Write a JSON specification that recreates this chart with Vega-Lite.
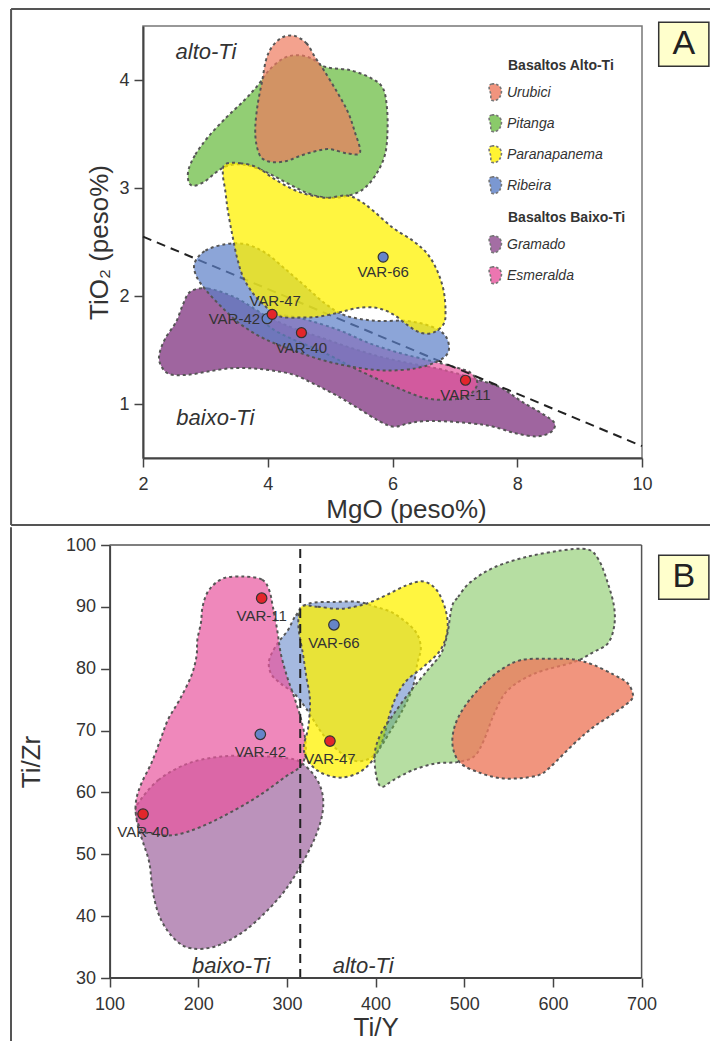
{
  "$schema": "https://vega.github.io/schema/vega-lite/v6.json",
  "background": "white",
  "padding": {"left": 9, "top": 7, "right": 0, "bottom": 0},
  "spacing": -1,
  "config": {
    "font": "Liberation Sans",
    "view": {"stroke": "#777777", "strokeWidth": 1.5},
    "axis": {"grid": false, "labelFlush": false, "domainColor": "#444444", "domainWidth": 2, "tickColor": "#444444", "tickWidth": 1.5, "tickSize": 9, "labelFont": "Liberation Sans", "labelFontSize": 18, "labelColor": "#333333", "titleFont": "Liberation Sans", "titleFontSize": 26, "titleFontWeight": "normal", "titleColor": "#333333"},
    "axisX": {"labelPadding": 8, "titlePadding": 3},
    "axisY": {"labelPadding": 5}
  },
  "datasets": {
    "polyA": [
      {"g":"Urubici","i":0,"x":4.42,"y":4.41},{"g":"Urubici","i":1,"x":4.62,"y":4.34},{"g":"Urubici","i":2,"x":4.76,"y":4.21},{"g":"Urubici","i":3,"x":4.9,"y":4.09},{"g":"Urubici","i":4,"x":5.1,"y":3.9},{"g":"Urubici","i":5,"x":5.28,"y":3.71},{"g":"Urubici","i":6,"x":5.39,"y":3.53},{"g":"Urubici","i":7,"x":5.48,"y":3.33},{"g":"Urubici","i":8,"x":5.28,"y":3.32},{"g":"Urubici","i":9,"x":4.99,"y":3.36},{"g":"Urubici","i":10,"x":4.76,"y":3.34},{"g":"Urubici","i":11,"x":4.53,"y":3.3},{"g":"Urubici","i":12,"x":4.3,"y":3.25},{"g":"Urubici","i":13,"x":4.07,"y":3.24},{"g":"Urubici","i":14,"x":3.9,"y":3.28},{"g":"Urubici","i":15,"x":3.82,"y":3.4},{"g":"Urubici","i":16,"x":3.8,"y":3.56},{"g":"Urubici","i":17,"x":3.84,"y":3.78},{"g":"Urubici","i":18,"x":3.91,"y":3.99},{"g":"Urubici","i":19,"x":3.97,"y":4.18},{"g":"Urubici","i":20,"x":4.06,"y":4.3},{"g":"Urubici","i":21,"x":4.22,"y":4.39},
      {"g":"Pitanga","i":0,"x":2.73,"y":3.17},{"g":"Pitanga","i":1,"x":2.84,"y":3.31},{"g":"Pitanga","i":2,"x":3.04,"y":3.47},{"g":"Pitanga","i":3,"x":3.33,"y":3.65},{"g":"Pitanga","i":4,"x":3.62,"y":3.81},{"g":"Pitanga","i":5,"x":3.84,"y":3.95},{"g":"Pitanga","i":6,"x":4.02,"y":4.09},{"g":"Pitanga","i":7,"x":4.25,"y":4.2},{"g":"Pitanga","i":8,"x":4.47,"y":4.23},{"g":"Pitanga","i":9,"x":4.7,"y":4.2},{"g":"Pitanga","i":10,"x":4.93,"y":4.12},{"g":"Pitanga","i":11,"x":5.33,"y":4.09},{"g":"Pitanga","i":12,"x":5.68,"y":4.01},{"g":"Pitanga","i":13,"x":5.85,"y":3.92},{"g":"Pitanga","i":14,"x":5.91,"y":3.75},{"g":"Pitanga","i":15,"x":5.92,"y":3.53},{"g":"Pitanga","i":16,"x":5.88,"y":3.31},{"g":"Pitanga","i":17,"x":5.73,"y":3.12},{"g":"Pitanga","i":18,"x":5.51,"y":2.98},{"g":"Pitanga","i":19,"x":5.22,"y":2.92},{"g":"Pitanga","i":20,"x":4.93,"y":2.91},{"g":"Pitanga","i":21,"x":4.65,"y":2.95},{"g":"Pitanga","i":22,"x":4.36,"y":3.03},{"g":"Pitanga","i":23,"x":4.07,"y":3.12},{"g":"Pitanga","i":24,"x":3.79,"y":3.19},{"g":"Pitanga","i":25,"x":3.56,"y":3.22},{"g":"Pitanga","i":26,"x":3.33,"y":3.2},{"g":"Pitanga","i":27,"x":3.16,"y":3.14},{"g":"Pitanga","i":28,"x":2.99,"y":3.06},{"g":"Pitanga","i":29,"x":2.81,"y":3.02},{"g":"Pitanga","i":30,"x":2.73,"y":3.06},
      {"g":"Paranapanema","i":0,"x":3.32,"y":3.22},{"g":"Paranapanema","i":1,"x":3.56,"y":3.23},{"g":"Paranapanema","i":2,"x":3.83,"y":3.19},{"g":"Paranapanema","i":3,"x":4.09,"y":3.09},{"g":"Paranapanema","i":4,"x":4.36,"y":3.0},{"g":"Paranapanema","i":5,"x":4.63,"y":2.94},{"g":"Paranapanema","i":6,"x":4.95,"y":2.91},{"g":"Paranapanema","i":7,"x":5.27,"y":2.93},{"g":"Paranapanema","i":8,"x":5.48,"y":2.88},{"g":"Paranapanema","i":9,"x":5.69,"y":2.79},{"g":"Paranapanema","i":10,"x":6.01,"y":2.63},{"g":"Paranapanema","i":11,"x":6.33,"y":2.51},{"g":"Paranapanema","i":12,"x":6.56,"y":2.39},{"g":"Paranapanema","i":13,"x":6.72,"y":2.23},{"g":"Paranapanema","i":14,"x":6.82,"y":2.05},{"g":"Paranapanema","i":15,"x":6.85,"y":1.86},{"g":"Paranapanema","i":16,"x":6.82,"y":1.74},{"g":"Paranapanema","i":17,"x":6.65,"y":1.66},{"g":"Paranapanema","i":18,"x":6.45,"y":1.66},{"g":"Paranapanema","i":19,"x":6.24,"y":1.73},{"g":"Paranapanema","i":20,"x":6.01,"y":1.83},{"g":"Paranapanema","i":21,"x":5.75,"y":1.89},{"g":"Paranapanema","i":22,"x":5.45,"y":1.89},{"g":"Paranapanema","i":23,"x":5.16,"y":1.85},{"g":"Paranapanema","i":24,"x":4.84,"y":1.81},{"g":"Paranapanema","i":25,"x":4.52,"y":1.8},{"g":"Paranapanema","i":26,"x":4.2,"y":1.81},{"g":"Paranapanema","i":27,"x":3.99,"y":1.89},{"g":"Paranapanema","i":28,"x":3.77,"y":2.02},{"g":"Paranapanema","i":29,"x":3.61,"y":2.17},{"g":"Paranapanema","i":30,"x":3.51,"y":2.35},{"g":"Paranapanema","i":31,"x":3.43,"y":2.57},{"g":"Paranapanema","i":32,"x":3.36,"y":2.79},{"g":"Paranapanema","i":33,"x":3.32,"y":2.97},{"g":"Paranapanema","i":34,"x":3.28,"y":3.13},
      {"g":"Ribeira","i":0,"x":2.83,"y":2.31},{"g":"Ribeira","i":1,"x":3.0,"y":2.42},{"g":"Ribeira","i":2,"x":3.32,"y":2.48},{"g":"Ribeira","i":3,"x":3.64,"y":2.48},{"g":"Ribeira","i":4,"x":3.96,"y":2.4},{"g":"Ribeira","i":5,"x":4.28,"y":2.25},{"g":"Ribeira","i":6,"x":4.6,"y":2.09},{"g":"Ribeira","i":7,"x":4.92,"y":1.93},{"g":"Ribeira","i":8,"x":5.24,"y":1.82},{"g":"Ribeira","i":9,"x":5.72,"y":1.77},{"g":"Ribeira","i":10,"x":6.21,"y":1.77},{"g":"Ribeira","i":11,"x":6.61,"y":1.72},{"g":"Ribeira","i":12,"x":6.85,"y":1.63},{"g":"Ribeira","i":13,"x":6.9,"y":1.49},{"g":"Ribeira","i":14,"x":6.74,"y":1.4},{"g":"Ribeira","i":15,"x":6.37,"y":1.33},{"g":"Ribeira","i":16,"x":5.88,"y":1.31},{"g":"Ribeira","i":17,"x":5.4,"y":1.34},{"g":"Ribeira","i":18,"x":4.92,"y":1.4},{"g":"Ribeira","i":19,"x":4.44,"y":1.49},{"g":"Ribeira","i":20,"x":3.96,"y":1.6},{"g":"Ribeira","i":21,"x":3.56,"y":1.74},{"g":"Ribeira","i":22,"x":3.24,"y":1.91},{"g":"Ribeira","i":23,"x":3.0,"y":2.06},{"g":"Ribeira","i":24,"x":2.85,"y":2.19},
      {"g":"Gramado","i":0,"x":2.76,"y":2.04},{"g":"Gramado","i":1,"x":3.04,"y":2.07},{"g":"Gramado","i":2,"x":3.5,"y":1.98},{"g":"Gramado","i":3,"x":3.96,"y":1.82},{"g":"Gramado","i":4,"x":4.42,"y":1.7},{"g":"Gramado","i":5,"x":4.88,"y":1.61},{"g":"Gramado","i":6,"x":5.33,"y":1.52},{"g":"Gramado","i":7,"x":5.79,"y":1.44},{"g":"Gramado","i":8,"x":6.25,"y":1.38},{"g":"Gramado","i":9,"x":6.71,"y":1.33},{"g":"Gramado","i":10,"x":7.05,"y":1.28},{"g":"Gramado","i":11,"x":7.4,"y":1.22},{"g":"Gramado","i":12,"x":7.74,"y":1.15},{"g":"Gramado","i":13,"x":8.08,"y":1.02},{"g":"Gramado","i":14,"x":8.43,"y":0.9},{"g":"Gramado","i":15,"x":8.6,"y":0.82},{"g":"Gramado","i":16,"x":8.54,"y":0.74},{"g":"Gramado","i":17,"x":8.31,"y":0.7},{"g":"Gramado","i":18,"x":7.97,"y":0.73},{"g":"Gramado","i":19,"x":7.62,"y":0.79},{"g":"Gramado","i":20,"x":7.28,"y":0.82},{"g":"Gramado","i":21,"x":6.82,"y":0.84},{"g":"Gramado","i":22,"x":6.48,"y":0.84},{"g":"Gramado","i":23,"x":6.25,"y":0.82},{"g":"Gramado","i":24,"x":6.02,"y":0.79},{"g":"Gramado","i":25,"x":5.79,"y":0.84},{"g":"Gramado","i":26,"x":5.45,"y":0.96},{"g":"Gramado","i":27,"x":5.1,"y":1.08},{"g":"Gramado","i":28,"x":4.76,"y":1.18},{"g":"Gramado","i":29,"x":4.42,"y":1.27},{"g":"Gramado","i":30,"x":4.07,"y":1.31},{"g":"Gramado","i":31,"x":3.73,"y":1.33},{"g":"Gramado","i":32,"x":3.39,"y":1.33},{"g":"Gramado","i":33,"x":3.04,"y":1.3},{"g":"Gramado","i":34,"x":2.7,"y":1.27},{"g":"Gramado","i":35,"x":2.41,"y":1.28},{"g":"Gramado","i":36,"x":2.27,"y":1.38},{"g":"Gramado","i":37,"x":2.27,"y":1.48},{"g":"Gramado","i":38,"x":2.36,"y":1.61},{"g":"Gramado","i":39,"x":2.53,"y":1.76},{"g":"Gramado","i":40,"x":2.64,"y":1.92},
      {"g":"Esmeralda","i":0,"x":3.91,"y":1.81},{"g":"Esmeralda","i":1,"x":4.28,"y":1.82},{"g":"Esmeralda","i":2,"x":4.68,"y":1.77},{"g":"Esmeralda","i":3,"x":5.16,"y":1.68},{"g":"Esmeralda","i":4,"x":5.64,"y":1.56},{"g":"Esmeralda","i":5,"x":6.13,"y":1.47},{"g":"Esmeralda","i":6,"x":6.61,"y":1.4},{"g":"Esmeralda","i":7,"x":7.01,"y":1.34},{"g":"Esmeralda","i":8,"x":7.25,"y":1.29},{"g":"Esmeralda","i":9,"x":7.36,"y":1.19},{"g":"Esmeralda","i":10,"x":7.22,"y":1.08},{"g":"Esmeralda","i":11,"x":6.9,"y":1.04},{"g":"Esmeralda","i":12,"x":6.49,"y":1.06},{"g":"Esmeralda","i":13,"x":5.96,"y":1.18},{"g":"Esmeralda","i":14,"x":5.43,"y":1.32},{"g":"Esmeralda","i":15,"x":4.89,"y":1.48},{"g":"Esmeralda","i":16,"x":4.36,"y":1.61},{"g":"Esmeralda","i":17,"x":4.04,"y":1.71}
    ],
    "ptsA": [
      {"s":"VAR-42","x":3.99,"y":1.79},{"s":"VAR-47","x":4.07,"y":1.83},{"s":"VAR-40","x":4.54,"y":1.66},{"s":"VAR-66","x":5.85,"y":2.36},{"s":"VAR-11","x":7.17,"y":1.22}
    ],
    "lineA": [{"x":2,"y":2.55},{"x":10,"y":0.61}],
    "annA": [{"t":"alto-Ti","x":3.01,"y":4.26},{"t":"baixo-Ti","x":3.16,"y":0.87}],
    "polyB": [
      {"g":"Gramado","i":0,"x":132,"y":58.2},{"g":"Gramado","i":1,"x":155,"y":62.0},{"g":"Gramado","i":2,"x":189,"y":64.7},{"g":"Gramado","i":3,"x":226,"y":65.8},{"g":"Gramado","i":4,"x":264,"y":65.9},{"g":"Gramado","i":5,"x":302,"y":65.5},{"g":"Gramado","i":6,"x":317,"y":64.7},{"g":"Gramado","i":7,"x":332,"y":62.5},{"g":"Gramado","i":8,"x":340,"y":59.8},{"g":"Gramado","i":9,"x":340,"y":56.6},{"g":"Gramado","i":10,"x":332,"y":52.8},{"g":"Gramado","i":11,"x":317,"y":48.5},{"g":"Gramado","i":12,"x":298,"y":44.2},{"g":"Gramado","i":13,"x":275,"y":40.5},{"g":"Gramado","i":14,"x":249,"y":37.3},{"g":"Gramado","i":15,"x":219,"y":35.1},{"g":"Gramado","i":16,"x":192,"y":34.8},{"g":"Gramado","i":17,"x":174,"y":36.2},{"g":"Gramado","i":18,"x":158,"y":39.4},{"g":"Gramado","i":19,"x":149,"y":43.7},{"g":"Gramado","i":20,"x":145,"y":48.5},{"g":"Gramado","i":21,"x":138,"y":51.8},{"g":"Gramado","i":22,"x":132,"y":54.5},{"g":"Gramado","i":23,"x":130,"y":56.6},
      {"g":"Ribeira","i":0,"x":301,"y":86.2},{"g":"Ribeira","i":1,"x":310,"y":88.6},{"g":"Ribeira","i":2,"x":324,"y":90.5},{"g":"Ribeira","i":3,"x":354,"y":90.8},{"g":"Ribeira","i":4,"x":380,"y":90.8},{"g":"Ribeira","i":5,"x":400,"y":90.0},{"g":"Ribeira","i":6,"x":421,"y":88.9},{"g":"Ribeira","i":7,"x":444,"y":86.2},{"g":"Ribeira","i":8,"x":451,"y":83.5},{"g":"Ribeira","i":9,"x":447,"y":80.8},{"g":"Ribeira","i":10,"x":442,"y":77.0},{"g":"Ribeira","i":11,"x":430,"y":73.2},{"g":"Ribeira","i":12,"x":415,"y":69.5},{"g":"Ribeira","i":13,"x":403,"y":66.8},{"g":"Ribeira","i":14,"x":392,"y":65.4},{"g":"Ribeira","i":15,"x":377,"y":65.1},{"g":"Ribeira","i":16,"x":360,"y":66.5},{"g":"Ribeira","i":17,"x":340,"y":69.5},{"g":"Ribeira","i":18,"x":322,"y":73.5},{"g":"Ribeira","i":19,"x":308,"y":76.0},{"g":"Ribeira","i":20,"x":293,"y":77.6},{"g":"Ribeira","i":21,"x":282,"y":79.2},{"g":"Ribeira","i":22,"x":280,"y":81.4},{"g":"Ribeira","i":23,"x":289,"y":84.0},
      {"g":"Esmeralda","i":0,"x":252,"y":94.9},{"g":"Esmeralda","i":1,"x":272,"y":94.4},{"g":"Esmeralda","i":2,"x":280,"y":92.7},{"g":"Esmeralda","i":3,"x":284,"y":90.1},{"g":"Esmeralda","i":4,"x":289,"y":86.3},{"g":"Esmeralda","i":5,"x":293,"y":82.5},{"g":"Esmeralda","i":6,"x":300,"y":78.8},{"g":"Esmeralda","i":7,"x":308,"y":75.5},{"g":"Esmeralda","i":8,"x":316,"y":71.8},{"g":"Esmeralda","i":9,"x":321,"y":68.2},{"g":"Esmeralda","i":10,"x":320,"y":65.5},{"g":"Esmeralda","i":11,"x":312,"y":63.8},{"g":"Esmeralda","i":12,"x":298,"y":62.5},{"g":"Esmeralda","i":13,"x":272,"y":59.8},{"g":"Esmeralda","i":14,"x":242,"y":57.2},{"g":"Esmeralda","i":15,"x":204,"y":54.5},{"g":"Esmeralda","i":16,"x":172,"y":53.1},{"g":"Esmeralda","i":17,"x":146,"y":53.4},{"g":"Esmeralda","i":18,"x":136,"y":53.9},{"g":"Esmeralda","i":19,"x":130,"y":56.1},{"g":"Esmeralda","i":20,"x":130,"y":58.8},{"g":"Esmeralda","i":21,"x":136,"y":61.5},{"g":"Esmeralda","i":22,"x":147,"y":64.7},{"g":"Esmeralda","i":23,"x":157,"y":68.4},{"g":"Esmeralda","i":24,"x":166,"y":71.8},{"g":"Esmeralda","i":25,"x":179,"y":75.0},{"g":"Esmeralda","i":26,"x":192,"y":78.8},{"g":"Esmeralda","i":27,"x":198,"y":82.0},{"g":"Esmeralda","i":28,"x":199,"y":84.7},{"g":"Esmeralda","i":29,"x":203,"y":87.4},{"g":"Esmeralda","i":30,"x":205,"y":90.1},{"g":"Esmeralda","i":31,"x":212,"y":92.7},{"g":"Esmeralda","i":32,"x":228,"y":94.6},
      {"g":"Paranapanema","i":0,"x":316,"y":90.0},{"g":"Paranapanema","i":1,"x":335,"y":90.0},{"g":"Paranapanema","i":2,"x":362,"y":89.7},{"g":"Paranapanema","i":3,"x":389,"y":90.5},{"g":"Paranapanema","i":4,"x":412,"y":91.9},{"g":"Paranapanema","i":5,"x":435,"y":93.5},{"g":"Paranapanema","i":6,"x":454,"y":94.1},{"g":"Paranapanema","i":7,"x":469,"y":92.7},{"g":"Paranapanema","i":8,"x":479,"y":89.5},{"g":"Paranapanema","i":9,"x":481,"y":86.2},{"g":"Paranapanema","i":10,"x":473,"y":83.0},{"g":"Paranapanema","i":11,"x":454,"y":80.3},{"g":"Paranapanema","i":12,"x":435,"y":78.1},{"g":"Paranapanema","i":13,"x":423,"y":75.4},{"g":"Paranapanema","i":14,"x":415,"y":72.2},{"g":"Paranapanema","i":15,"x":408,"y":68.4},{"g":"Paranapanema","i":16,"x":396,"y":65.1},{"g":"Paranapanema","i":17,"x":381,"y":63.2},{"g":"Paranapanema","i":18,"x":362,"y":62.4},{"g":"Paranapanema","i":19,"x":345,"y":62.8},{"g":"Paranapanema","i":20,"x":332,"y":63.8},{"g":"Paranapanema","i":21,"x":322,"y":65.5},{"g":"Paranapanema","i":22,"x":319,"y":67.5},{"g":"Paranapanema","i":23,"x":324,"y":70.5},{"g":"Paranapanema","i":24,"x":326,"y":74.9},{"g":"Paranapanema","i":25,"x":322,"y":78.6},{"g":"Paranapanema","i":26,"x":318,"y":82.4},{"g":"Paranapanema","i":27,"x":313,"y":86.8},
      {"g":"Pitanga","i":0,"x":486,"y":90.0},{"g":"Pitanga","i":1,"x":493,"y":91.6},{"g":"Pitanga","i":2,"x":507,"y":94.0},{"g":"Pitanga","i":3,"x":534,"y":96.4},{"g":"Pitanga","i":4,"x":571,"y":98.1},{"g":"Pitanga","i":5,"x":609,"y":99.1},{"g":"Pitanga","i":6,"x":639,"y":99.3},{"g":"Pitanga","i":7,"x":652,"y":97.5},{"g":"Pitanga","i":8,"x":662,"y":93.8},{"g":"Pitanga","i":9,"x":669,"y":90.0},{"g":"Pitanga","i":10,"x":669,"y":86.8},{"g":"Pitanga","i":11,"x":662,"y":84.1},{"g":"Pitanga","i":12,"x":646,"y":82.7},{"g":"Pitanga","i":13,"x":624,"y":81.1},{"g":"Pitanga","i":14,"x":579,"y":79.2},{"g":"Pitanga","i":15,"x":549,"y":76.5},{"g":"Pitanga","i":16,"x":534,"y":72.8},{"g":"Pitanga","i":17,"x":522,"y":68.4},{"g":"Pitanga","i":18,"x":511,"y":65.8},{"g":"Pitanga","i":19,"x":492,"y":64.9},{"g":"Pitanga","i":20,"x":468,"y":64.7},{"g":"Pitanga","i":21,"x":442,"y":63.6},{"g":"Pitanga","i":22,"x":420,"y":62.0},{"g":"Pitanga","i":23,"x":407,"y":60.9},{"g":"Pitanga","i":24,"x":401,"y":62.5},{"g":"Pitanga","i":25,"x":399,"y":66.3},{"g":"Pitanga","i":26,"x":406,"y":69.5},{"g":"Pitanga","i":27,"x":421,"y":72.8},{"g":"Pitanga","i":28,"x":440,"y":76.5},{"g":"Pitanga","i":29,"x":459,"y":79.8},{"g":"Pitanga","i":30,"x":474,"y":82.5},{"g":"Pitanga","i":31,"x":481,"y":85.7},
      {"g":"Urubici","i":0,"x":594,"y":81.6},{"g":"Urubici","i":1,"x":564,"y":81.4},{"g":"Urubici","i":2,"x":541,"y":79.8},{"g":"Urubici","i":3,"x":519,"y":77.1},{"g":"Urubici","i":4,"x":500,"y":73.8},{"g":"Urubici","i":5,"x":489,"y":70.6},{"g":"Urubici","i":6,"x":487,"y":67.4},{"g":"Urubici","i":7,"x":496,"y":64.7},{"g":"Urubici","i":8,"x":519,"y":63.1},{"g":"Urubici","i":9,"x":541,"y":62.3},{"g":"Urubici","i":10,"x":563,"y":62.3},{"g":"Urubici","i":11,"x":584,"y":62.8},{"g":"Urubici","i":12,"x":597,"y":64.1},{"g":"Urubici","i":13,"x":624,"y":67.9},{"g":"Urubici","i":14,"x":646,"y":70.6},{"g":"Urubici","i":15,"x":669,"y":72.8},{"g":"Urubici","i":16,"x":688,"y":74.9},{"g":"Urubici","i":17,"x":690,"y":76.0},{"g":"Urubici","i":18,"x":684,"y":77.7},{"g":"Urubici","i":19,"x":669,"y":79.0},{"g":"Urubici","i":20,"x":646,"y":80.6},{"g":"Urubici","i":21,"x":624,"y":81.5}
    ],
    "ptsB": [
      {"s":"VAR-11","x":271.5,"y":91.4},{"s":"VAR-66","x":353,"y":87.1},{"s":"VAR-42","x":270,"y":69.4},{"s":"VAR-47","x":348.5,"y":68.3},{"s":"VAR-40","x":137.7,"y":56.5}
    ],
    "lineB": [{"x":315,"y":30},{"x":315,"y":100}],
    "annB": [{"t":"baixo-Ti","x":237,"y":31.9},{"t":"alto-Ti","x":386,"y":31.9}]
  },
  "vconcat": [
    {
      "width": 499,
      "height": 432,
      "resolve": {"scale": {"fill": "independent"}},
      "layer": [
        {
          "layer": [
            {
              "data": {"name": "polyA"},
              "transform": [{"filter": "datum.g === 'Gramado'"}],
              "mark": {"type": "line", "interpolate": "cardinal-closed", "stroke": "#555555", "strokeWidth": 2, "strokeDash": [3, 3], "fillOpacity": 0.85},
              "encoding": {
                "x": {"field": "x", "type": "quantitative", "scale": {"domain": [2, 10], "nice": false, "zero": false}, "axis": {"title": "MgO (peso%)", "values": [2, 4, 6, 8, 10], "format": "d", "titleX": 263}},
                "y": {"field": "y", "type": "quantitative", "scale": {"domain": [0.5, 4.5], "nice": false, "zero": false}, "axis": {"title": "TiO₂ (peso%)", "values": [1, 2, 3, 4], "format": "d", "titleX": -31}},
                "order": {"field": "i", "type": "quantitative"},
                "fill": {"field": "g", "type": "nominal", "scale": {"domain": ["Gramado", "Esmeralda"], "range": ["#8E4A8E", "#E8559E"]},
                  "legend": {"title": "Basaltos Baixo-Ti", "orient": "none", "legendX": 365, "legendY": 185, "symbolType": "M-0.45,-1C0.15,-1.1 0.75,-0.7 0.7,-0.1C0.65,0.5 0.3,1 -0.35,0.95C-0.7,0.9 -0.45,0.35 -0.6,0C-0.8,-0.45 -0.85,-0.95 -0.45,-1Z", "symbolSize": 289, "symbolStrokeColor": "#555555", "symbolStrokeWidth": 1.6, "symbolDash": [2.5, 2], "symbolOpacity": 0.8, "symbolOffset": -22, "labelOffset": 2, "rowPadding": 7, "titlePadding": 10, "titleFont": "Liberation Sans", "titleFontSize": 14, "titleFontWeight": "bold", "titleColor": "#333333", "labelFont": "Liberation Sans", "labelFontSize": 14, "labelFontStyle": "italic", "labelColor": "#333333"}}
              }
            },
            {
              "data": {"name": "polyA"},
              "transform": [{"filter": "datum.g === 'Esmeralda'"}],
              "mark": {"type": "line", "interpolate": "cardinal-closed", "stroke": "#555555", "strokeWidth": 2, "strokeDash": [3, 3], "fillOpacity": 0.7},
              "encoding": {
                "x": {"field": "x", "type": "quantitative"},
                "y": {"field": "y", "type": "quantitative"},
                "order": {"field": "i", "type": "quantitative"},
                "fill": {"field": "g", "type": "nominal", "scale": {"domain": ["Gramado", "Esmeralda"], "range": ["#8E4A8E", "#E8559E"]},
                  "legend": {"title": "Basaltos Baixo-Ti", "orient": "none", "legendX": 365, "legendY": 185, "symbolType": "M-0.45,-1C0.15,-1.1 0.75,-0.7 0.7,-0.1C0.65,0.5 0.3,1 -0.35,0.95C-0.7,0.9 -0.45,0.35 -0.6,0C-0.8,-0.45 -0.85,-0.95 -0.45,-1Z", "symbolSize": 289, "symbolStrokeColor": "#555555", "symbolStrokeWidth": 1.6, "symbolDash": [2.5, 2], "symbolOpacity": 0.8, "symbolOffset": -22, "labelOffset": 2, "rowPadding": 7, "titlePadding": 10, "titleFont": "Liberation Sans", "titleFontSize": 14, "titleFontWeight": "bold", "titleColor": "#333333", "labelFont": "Liberation Sans", "labelFontSize": 14, "labelFontStyle": "italic", "labelColor": "#333333"}}
              }
            }
          ]
        },
        {
          "data": {"name": "lineA"},
          "mark": {"type": "line", "stroke": "#222222", "strokeWidth": 2, "strokeDash": [9, 6]},
          "encoding": {"x": {"field": "x", "type": "quantitative"}, "y": {"field": "y", "type": "quantitative"}}
        },
        {
          "layer": [
            {
              "data": {"name": "polyA"},
              "transform": [{"filter": "datum.g === 'Ribeira'"}],
              "mark": {"type": "line", "interpolate": "cardinal-closed", "stroke": "#555555", "strokeWidth": 2, "strokeDash": [3, 3], "fillOpacity": 0.7},
              "encoding": {
                "x": {"field": "x", "type": "quantitative"},
                "y": {"field": "y", "type": "quantitative"},
                "order": {"field": "i", "type": "quantitative"},
                "fill": {"field": "g", "type": "nominal", "scale": {"domain": ["Urubici", "Pitanga", "Paranapanema", "Ribeira"], "range": ["#EE7A5E", "#6DBE45", "#FFF200", "#5B7FC7"]},
                  "legend": {"title": "Basaltos Alto-Ti", "orient": "none", "legendX": 365, "legendY": 33, "symbolType": "M-0.45,-1C0.15,-1.1 0.75,-0.7 0.7,-0.1C0.65,0.5 0.3,1 -0.35,0.95C-0.7,0.9 -0.45,0.35 -0.6,0C-0.8,-0.45 -0.85,-0.95 -0.45,-1Z", "symbolSize": 289, "symbolStrokeColor": "#555555", "symbolStrokeWidth": 1.6, "symbolDash": [2.5, 2], "symbolOpacity": 0.8, "symbolOffset": -22, "labelOffset": 2, "rowPadding": 7, "titlePadding": 10, "titleFont": "Liberation Sans", "titleFontSize": 14, "titleFontWeight": "bold", "titleColor": "#333333", "labelFont": "Liberation Sans", "labelFontSize": 14, "labelFontStyle": "italic", "labelColor": "#333333"}}
              }
            },
            {
              "data": {"name": "polyA"},
              "transform": [{"filter": "datum.g === 'Pitanga'"}],
              "mark": {"type": "line", "interpolate": "cardinal-closed", "stroke": "#555555", "strokeWidth": 2, "strokeDash": [3, 3], "fillOpacity": 0.75},
              "encoding": {
                "x": {"field": "x", "type": "quantitative"},
                "y": {"field": "y", "type": "quantitative"},
                "order": {"field": "i", "type": "quantitative"},
                "fill": {"field": "g", "type": "nominal", "scale": {"domain": ["Urubici", "Pitanga", "Paranapanema", "Ribeira"], "range": ["#EE7A5E", "#6DBE45", "#FFF200", "#5B7FC7"]},
                  "legend": {"title": "Basaltos Alto-Ti", "orient": "none", "legendX": 365, "legendY": 33, "symbolType": "M-0.45,-1C0.15,-1.1 0.75,-0.7 0.7,-0.1C0.65,0.5 0.3,1 -0.35,0.95C-0.7,0.9 -0.45,0.35 -0.6,0C-0.8,-0.45 -0.85,-0.95 -0.45,-1Z", "symbolSize": 289, "symbolStrokeColor": "#555555", "symbolStrokeWidth": 1.6, "symbolDash": [2.5, 2], "symbolOpacity": 0.8, "symbolOffset": -22, "labelOffset": 2, "rowPadding": 7, "titlePadding": 10, "titleFont": "Liberation Sans", "titleFontSize": 14, "titleFontWeight": "bold", "titleColor": "#333333", "labelFont": "Liberation Sans", "labelFontSize": 14, "labelFontStyle": "italic", "labelColor": "#333333"}}
              }
            },
            {
              "data": {"name": "polyA"},
              "transform": [{"filter": "datum.g === 'Urubici'"}],
              "mark": {"type": "line", "interpolate": "cardinal-closed", "stroke": "#555555", "strokeWidth": 2, "strokeDash": [3, 3], "fillOpacity": 0.7},
              "encoding": {
                "x": {"field": "x", "type": "quantitative"},
                "y": {"field": "y", "type": "quantitative"},
                "order": {"field": "i", "type": "quantitative"},
                "fill": {"field": "g", "type": "nominal", "scale": {"domain": ["Urubici", "Pitanga", "Paranapanema", "Ribeira"], "range": ["#EE7A5E", "#6DBE45", "#FFF200", "#5B7FC7"]},
                  "legend": {"title": "Basaltos Alto-Ti", "orient": "none", "legendX": 365, "legendY": 33, "symbolType": "M-0.45,-1C0.15,-1.1 0.75,-0.7 0.7,-0.1C0.65,0.5 0.3,1 -0.35,0.95C-0.7,0.9 -0.45,0.35 -0.6,0C-0.8,-0.45 -0.85,-0.95 -0.45,-1Z", "symbolSize": 289, "symbolStrokeColor": "#555555", "symbolStrokeWidth": 1.6, "symbolDash": [2.5, 2], "symbolOpacity": 0.8, "symbolOffset": -22, "labelOffset": 2, "rowPadding": 7, "titlePadding": 10, "titleFont": "Liberation Sans", "titleFontSize": 14, "titleFontWeight": "bold", "titleColor": "#333333", "labelFont": "Liberation Sans", "labelFontSize": 14, "labelFontStyle": "italic", "labelColor": "#333333"}}
              }
            },
            {
              "data": {"name": "polyA"},
              "transform": [{"filter": "datum.g === 'Paranapanema'"}],
              "mark": {"type": "line", "interpolate": "cardinal-closed", "stroke": "#555555", "strokeWidth": 2, "strokeDash": [3, 3], "fillOpacity": 0.75},
              "encoding": {
                "x": {"field": "x", "type": "quantitative"},
                "y": {"field": "y", "type": "quantitative"},
                "order": {"field": "i", "type": "quantitative"},
                "fill": {"field": "g", "type": "nominal", "scale": {"domain": ["Urubici", "Pitanga", "Paranapanema", "Ribeira"], "range": ["#EE7A5E", "#6DBE45", "#FFF200", "#5B7FC7"]},
                  "legend": {"title": "Basaltos Alto-Ti", "orient": "none", "legendX": 365, "legendY": 33, "symbolType": "M-0.45,-1C0.15,-1.1 0.75,-0.7 0.7,-0.1C0.65,0.5 0.3,1 -0.35,0.95C-0.7,0.9 -0.45,0.35 -0.6,0C-0.8,-0.45 -0.85,-0.95 -0.45,-1Z", "symbolSize": 289, "symbolStrokeColor": "#555555", "symbolStrokeWidth": 1.6, "symbolDash": [2.5, 2], "symbolOpacity": 0.8, "symbolOffset": -22, "labelOffset": 2, "rowPadding": 7, "titlePadding": 10, "titleFont": "Liberation Sans", "titleFontSize": 14, "titleFontWeight": "bold", "titleColor": "#333333", "labelFont": "Liberation Sans", "labelFontSize": 14, "labelFontStyle": "italic", "labelColor": "#333333"}}
              }
            }
          ]
        },
        {
          "data": {"name": "ptsA"},
          "mark": {"type": "point", "filled": true, "shape": "circle", "size": 100, "stroke": "#333333", "strokeWidth": 1.2, "opacity": 1},
          "encoding": {
            "x": {"field": "x", "type": "quantitative"},
            "y": {"field": "y", "type": "quantitative"},
            "fill": {"condition": {"test": "datum.s === 'VAR-66' || datum.s === 'VAR-42'", "value": "#6684C8"}, "value": "#E3262B"}
          }
        },
        {
          "data": {"name": "ptsA"},
          "transform": [{"filter": "datum.s === 'VAR-66' || datum.s === 'VAR-40' || datum.s === 'VAR-11'"}],
          "mark": {"type": "text", "dy": 15, "fontSize": 15, "fill": "#333333", "font": "Liberation Sans"},
          "encoding": {"x": {"field": "x", "type": "quantitative"}, "y": {"field": "y", "type": "quantitative"}, "text": {"field": "s"}}
        },
        {
          "data": {"name": "ptsA"},
          "transform": [{"filter": "datum.s === 'VAR-47'"}],
          "mark": {"type": "text", "dy": -13, "dx": 3, "fontSize": 15, "fill": "#333333", "font": "Liberation Sans"},
          "encoding": {"x": {"field": "x", "type": "quantitative"}, "y": {"field": "y", "type": "quantitative"}, "text": {"field": "s"}}
        },
        {
          "data": {"name": "ptsA"},
          "transform": [{"filter": "datum.s === 'VAR-42'"}],
          "mark": {"type": "text", "align": "right", "dx": -7, "fontSize": 15, "fill": "#333333", "font": "Liberation Sans"},
          "encoding": {"x": {"field": "x", "type": "quantitative"}, "y": {"field": "y", "type": "quantitative"}, "text": {"field": "s"}}
        },
        {
          "data": {"name": "annA"},
          "mark": {"type": "text", "fontSize": 22, "fontStyle": "italic", "fill": "#333333", "font": "Liberation Sans"},
          "encoding": {"x": {"field": "x", "type": "quantitative"}, "y": {"field": "y", "type": "quantitative"}, "text": {"field": "t"}}
        },
        {
          "data": {"values": [{"t": "A", "x": 10.67, "y": 4.33}]},
          "layer": [
            {"mark": {"type": "point", "shape": "M-1.14,-1L1.14,-1L1.14,1L-1.14,1Z", "size": 1936, "filled": true, "fill": "#FFFFCC", "stroke": "#333333", "strokeWidth": 1.5, "opacity": 1},
             "encoding": {"x": {"field": "x", "type": "quantitative"}, "y": {"field": "y", "type": "quantitative"}}},
            {"mark": {"type": "text", "fontSize": 34, "fill": "#222222", "baseline": "middle", "font": "Liberation Sans"},
             "encoding": {"x": {"field": "x", "type": "quantitative"}, "y": {"field": "y", "type": "quantitative"}, "text": {"field": "t"}}}
          ]
        },
        {
          "data": {"values": [{}]},
          "mark": {"type": "rule", "stroke": "#555555", "strokeWidth": 2},
          "encoding": {"x": {"datum": -0.115, "type": "quantitative"}, "x2": {"datum": 11.13}, "y": {"datum": 4.657, "type": "quantitative"}}
        },
        {
          "data": {"values": [{}]},
          "mark": {"type": "rule", "stroke": "#555555", "strokeWidth": 2},
          "encoding": {"x": {"datum": -0.115, "type": "quantitative"}, "x2": {"datum": 11.13}, "y": {"datum": -0.12, "type": "quantitative"}}
        },
        {
          "data": {"values": [{}]},
          "mark": {"type": "rule", "stroke": "#555555", "strokeWidth": 2},
          "encoding": {"x": {"datum": -0.115, "type": "quantitative"}, "y": {"datum": 4.657, "type": "quantitative"}, "y2": {"datum": -0.12}}
        }
      ]
    },
    {
      "width": 498.6,
      "height": 433,
      "view": {"stroke": null},
      "layer": [
        {
          "data": {"name": "polyB"},
          "transform": [{"filter": "datum.g === 'Gramado'"}],
          "mark": {"type": "line", "interpolate": "cardinal-closed", "stroke": "#555555", "strokeWidth": 2, "strokeDash": [3, 3], "fillOpacity": 0.6},
          "encoding": {
            "x": {"field": "x", "type": "quantitative", "scale": {"domain": [100, 700], "range": [-33.4, 498.6], "nice": false, "zero": false}, "axis": {"title": "Ti/Y", "values": [100, 200, 300, 400, 500, 600, 700], "titlePadding": 1, "domain": false, "titleX": 232.6}},
            "y": {"field": "y", "type": "quantitative", "scale": {"domain": [30, 100], "nice": false, "zero": false}, "axis": {"title": "Ti/Zr", "values": [30, 40, 50, 60, 70, 80, 90, 100], "titleX": -65, "offset": 33.4}},
            "order": {"field": "i", "type": "quantitative"},
            "fill": {"value": "#8E4A8E"}
          }
        },
        {
          "data": {"name": "polyB"},
          "transform": [{"filter": "datum.g === 'Ribeira'"}],
          "mark": {"type": "line", "interpolate": "cardinal-closed", "stroke": "#555555", "strokeWidth": 2, "strokeDash": [3, 3], "fillOpacity": 0.55},
          "encoding": {"x": {"field": "x", "type": "quantitative"}, "y": {"field": "y", "type": "quantitative"}, "order": {"field": "i", "type": "quantitative"}, "fill": {"value": "#5B7FC7"}}
        },
        {
          "data": {"name": "polyB"},
          "transform": [{"filter": "datum.g === 'Esmeralda'"}],
          "mark": {"type": "line", "interpolate": "cardinal-closed", "stroke": "#555555", "strokeWidth": 2, "strokeDash": [3, 3], "fillOpacity": 0.7},
          "encoding": {"x": {"field": "x", "type": "quantitative"}, "y": {"field": "y", "type": "quantitative"}, "order": {"field": "i", "type": "quantitative"}, "fill": {"value": "#E8559E"}}
        },
        {
          "data": {"name": "polyB"},
          "transform": [{"filter": "datum.g === 'Paranapanema'"}],
          "mark": {"type": "line", "interpolate": "cardinal-closed", "stroke": "#555555", "strokeWidth": 2, "strokeDash": [3, 3], "fillOpacity": 0.75},
          "encoding": {"x": {"field": "x", "type": "quantitative"}, "y": {"field": "y", "type": "quantitative"}, "order": {"field": "i", "type": "quantitative"}, "fill": {"value": "#FFF200"}}
        },
        {
          "data": {"name": "polyB"},
          "transform": [{"filter": "datum.g === 'Pitanga'"}],
          "mark": {"type": "line", "interpolate": "cardinal-closed", "stroke": "#555555", "strokeWidth": 2, "strokeDash": [3, 3], "fillOpacity": 0.5},
          "encoding": {"x": {"field": "x", "type": "quantitative"}, "y": {"field": "y", "type": "quantitative"}, "order": {"field": "i", "type": "quantitative"}, "fill": {"value": "#6DBE45"}}
        },
        {
          "data": {"name": "polyB"},
          "transform": [{"filter": "datum.g === 'Urubici'"}],
          "mark": {"type": "line", "interpolate": "cardinal-closed", "stroke": "#555555", "strokeWidth": 2, "strokeDash": [3, 3], "fillOpacity": 0.8},
          "encoding": {"x": {"field": "x", "type": "quantitative"}, "y": {"field": "y", "type": "quantitative"}, "order": {"field": "i", "type": "quantitative"}, "fill": {"value": "#EE7A5E"}}
        },
        {
          "data": {"name": "lineB"},
          "mark": {"type": "line", "stroke": "#222222", "strokeWidth": 2, "strokeDash": [9, 6]},
          "encoding": {"x": {"field": "x", "type": "quantitative"}, "y": {"field": "y", "type": "quantitative"}}
        },
        {
          "data": {"name": "ptsB"},
          "mark": {"type": "point", "filled": true, "shape": "circle", "size": 110, "stroke": "#333333", "strokeWidth": 1.2, "opacity": 1},
          "encoding": {
            "x": {"field": "x", "type": "quantitative"},
            "y": {"field": "y", "type": "quantitative"},
            "fill": {"condition": {"test": "datum.s === 'VAR-66' || datum.s === 'VAR-42'", "value": "#6684C8"}, "value": "#E3262B"}
          }
        },
        {
          "data": {"name": "ptsB"},
          "mark": {"type": "text", "dy": 18, "fontSize": 15, "fill": "#333333", "font": "Liberation Sans"},
          "encoding": {"x": {"field": "x", "type": "quantitative"}, "y": {"field": "y", "type": "quantitative"}, "text": {"field": "s"}}
        },
        {
          "data": {"name": "annB"},
          "mark": {"type": "text", "fontSize": 22, "fontStyle": "italic", "fill": "#333333", "font": "Liberation Sans"},
          "encoding": {"x": {"field": "x", "type": "quantitative"}, "y": {"field": "y", "type": "quantitative"}, "text": {"field": "t"}}
        },
        {
          "data": {"values": [{"t": "B", "x": 747.6, "y": 94.8}]},
          "layer": [
            {"mark": {"type": "point", "shape": "M-1.14,-1L1.14,-1L1.14,1L-1.14,1Z", "size": 1936, "filled": true, "fill": "#FFFFCC", "stroke": "#333333", "strokeWidth": 1.5, "opacity": 1},
             "encoding": {"x": {"field": "x", "type": "quantitative"}, "y": {"field": "y", "type": "quantitative"}}},
            {"mark": {"type": "text", "fontSize": 34, "fill": "#222222", "baseline": "middle", "font": "Liberation Sans"},
             "encoding": {"x": {"field": "x", "type": "quantitative"}, "y": {"field": "y", "type": "quantitative"}, "text": {"field": "t"}}}
          ]
        },
        {
          "data": {"values": [{}]},
          "mark": {"type": "rule", "stroke": "#555555", "strokeWidth": 1.5},
          "encoding": {"x": {"datum": 100, "type": "quantitative"}, "x2": {"datum": 700}, "y": {"datum": 100, "type": "quantitative"}}
        },
        {
          "data": {"values": [{}]},
          "mark": {"type": "rule", "stroke": "#555555", "strokeWidth": 1.5},
          "encoding": {"x": {"datum": 700, "type": "quantitative"}, "y": {"datum": 30, "type": "quantitative"}, "y2": {"datum": 100}}
        },
        {
          "data": {"values": [{}]},
          "mark": {"type": "rule", "stroke": "#444444", "strokeWidth": 2},
          "encoding": {"x": {"datum": 100, "type": "quantitative"}, "x2": {"datum": 700}, "y": {"datum": 30, "type": "quantitative"}}
        },
        {
          "data": {"values": [{}]},
          "mark": {"type": "rule", "stroke": "#555555", "strokeWidth": 2},
          "encoding": {"x": {"datum": -11.2, "type": "quantitative"}, "y": {"datum": 102.86, "type": "quantitative"}, "y2": {"datum": 19.2}}
        }
      ]
    }
  ]
}
